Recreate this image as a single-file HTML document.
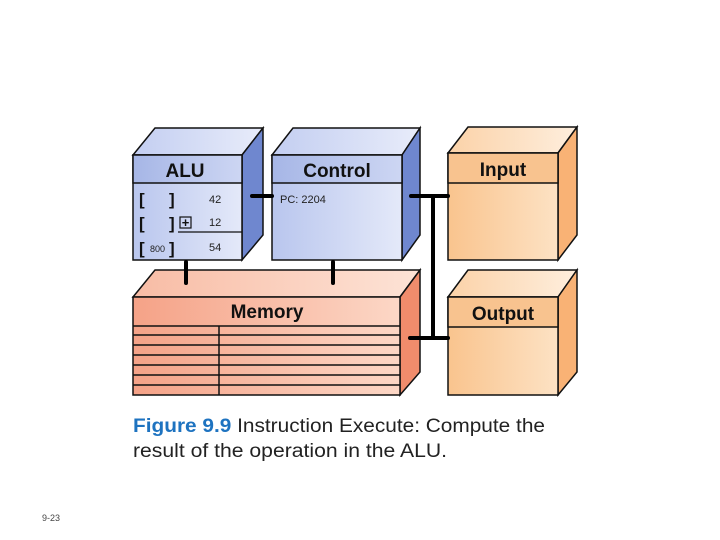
<!DOCTYPE html>
<html><head><meta charset="utf-8"><style>
html,body{margin:0;padding:0;background:#fff}
svg{display:block}
text{font-family:"Liberation Sans",sans-serif}
</style></head><body>
<svg width="720" height="540" viewBox="0 0 720 540" xmlns="http://www.w3.org/2000/svg">
<defs>
<linearGradient id="bl" x1="0" x2="1" y1="0" y2="0"><stop offset="0" stop-color="#b9c6ee"/><stop offset="1" stop-color="#e4e9f9"/></linearGradient>
<linearGradient id="bh" x1="0" x2="1"><stop offset="0" stop-color="#a6b6e6"/><stop offset="1" stop-color="#cdd6f3"/></linearGradient>
<linearGradient id="bt" x1="0" x2="1"><stop offset="0" stop-color="#c3cef1"/><stop offset="1" stop-color="#e8ecfa"/></linearGradient>
<linearGradient id="ml" x1="0" x2="1"><stop offset="0" stop-color="#f5a287"/><stop offset="1" stop-color="#fcd7c6"/></linearGradient>
<linearGradient id="mt" x1="0" x2="1"><stop offset="0" stop-color="#f8bca5"/><stop offset="1" stop-color="#fde3d6"/></linearGradient>
<linearGradient id="ol" x1="0" x2="1"><stop offset="0" stop-color="#f9c48e"/><stop offset="1" stop-color="#fde2c4"/></linearGradient>
<linearGradient id="ot" x1="0" x2="1"><stop offset="0" stop-color="#fbd2a8"/><stop offset="1" stop-color="#feeedd"/></linearGradient>
</defs>
<g stroke="#111" stroke-width="1.5">
<polygon points="133,155 155,128 263,128 242,155" fill="url(#bt)"/>
<polygon points="242,155 263,128 263,235 242,260" fill="#6f87cf"/>
<rect x="133" y="155" width="109" height="105" fill="url(#bl)"/>
<rect x="133" y="155" width="109" height="28" fill="url(#bh)"/>
<polygon points="272,155 293,128 420,128 402,155" fill="url(#bt)"/>
<polygon points="402,155 420,128 420,235 402,260" fill="#6f87cf"/>
<rect x="272" y="155" width="130" height="105" fill="url(#bl)"/>
<rect x="272" y="155" width="130" height="28" fill="url(#bh)"/>
<polygon points="448,153 468,127 577,127 558,153" fill="url(#ot)"/>
<polygon points="558,153 577,127 577,235 558,260" fill="#f9b275"/>
<rect x="448" y="153" width="110" height="107" fill="url(#ol)"/>
<rect x="448" y="153" width="110" height="30" fill="#f8c38f"/>
<polygon points="133,297 155,270 420,270 400,297" fill="url(#mt)"/>
<polygon points="400,297 420,270 420,372 400,395" fill="#f08c6c"/>
<rect x="133" y="297" width="267" height="98" fill="url(#ml)"/>
<line x1="133" y1="326" x2="400" y2="326"/>
<line x1="133" y1="335" x2="400" y2="335"/>
<line x1="133" y1="345" x2="400" y2="345"/>
<line x1="133" y1="355" x2="400" y2="355"/>
<line x1="133" y1="365" x2="400" y2="365"/>
<line x1="133" y1="375" x2="400" y2="375"/>
<line x1="133" y1="385" x2="400" y2="385"/>
<line x1="219" y1="326" x2="219" y2="395"/>
<polygon points="448,297 468,270 577,270 558,297" fill="url(#ot)"/>
<polygon points="558,297 577,270 577,372 558,395" fill="#f9b275"/>
<rect x="448" y="297" width="110" height="98" fill="url(#ol)"/>
<rect x="448" y="297" width="110" height="30" fill="#f8c38f"/>
<line x1="178" y1="232" x2="242" y2="232" stroke-width="1.2"/>
</g>
<g stroke="#000" stroke-width="4" stroke-linecap="round">
<line x1="252" y1="196" x2="272" y2="196"/>
<line x1="411" y1="196" x2="448" y2="196"/>
<line x1="433" y1="196" x2="433" y2="338"/>
<line x1="410" y1="338" x2="448" y2="338"/>
<line x1="186" y1="262" x2="186" y2="283"/>
<line x1="333" y1="262" x2="333" y2="283"/>
</g>
<g font-weight="bold" font-size="19" text-anchor="middle" fill="#111">
<text x="185" y="177">ALU</text>
<text x="337" y="177">Control</text>
<text x="503" y="176">Input</text>
<text x="267" y="318">Memory</text>
<text x="503" y="320">Output</text>
</g>
<g fill="#222" font-size="11">
<text x="280" y="203">PC: 2204</text>
<text x="209" y="203">42</text>
<text x="209" y="226">12</text>
<text x="209" y="251">54</text>
<text x="150" y="252" font-size="9">800</text>
</g>
<g fill="#111" font-size="17" font-weight="bold">
<text x="139" y="205">[</text><text x="169" y="205">]</text>
<text x="139" y="229">[</text><text x="169" y="229">]</text>
<text x="139" y="254">[</text><text x="169" y="254">]</text>
</g>
<rect x="180" y="217" width="11" height="11" fill="none" stroke="#111" stroke-width="1.2"/>
<text x="185.5" y="227" font-size="13" font-weight="bold" text-anchor="middle" fill="#111">+</text>
<text x="133" y="432" font-size="19" fill="#222" textLength="412" lengthAdjust="spacingAndGlyphs"><tspan fill="#1e73c0" font-weight="bold">Figure 9.9</tspan>  Instruction Execute: Compute the</text>
<text x="133" y="457" font-size="19" fill="#222" textLength="314" lengthAdjust="spacingAndGlyphs">result of the operation in the ALU.</text>
<text x="42" y="521" font-size="9" fill="#444">9-23</text>
</svg>
</body></html>
